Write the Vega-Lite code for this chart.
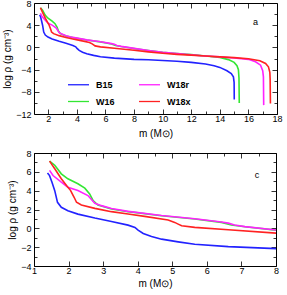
{
 "$schema": "https://vega.github.io/schema/vega-lite/v6.json",
 "padding": {"left": 2, "top": -2, "right": 2, "bottom": 0},
 "spacing": 9,
 "config": {
  "font": "Liberation Sans",
  "view": {"stroke": "black", "strokeWidth": 1},
  "axis": {"grid": false, "domain": false, "tickColor": "black", "labelColor": "black", "titleColor": "black", "labelFontSize": 9, "titleFontSize": 10, "titleFontWeight": "normal", "tickWidth": 0.8, "titlePadding": 3, "minExtent": 0, "labelFlush": false, "labelOverlap": false},
  "axisX": {"labelPadding": 5},
  "axisY": {"labelPadding": 8}
 },
 "resolve": {"legend": {"color": "independent"}},
 "datasets": {
  "rho": [
   {"model": "B15", "m": 1.39, "v": 5.87}, {"model": "B15", "m": 1.45, "v": 5.6}, {"model": "B15", "m": 1.52, "v": 4.9}, {"model": "B15", "m": 1.6, "v": 4.0}, {"model": "B15", "m": 1.68, "v": 2.76}, {"model": "B15", "m": 1.79, "v": 2.23}, {"model": "B15", "m": 1.98, "v": 1.87}, {"model": "B15", "m": 2.27, "v": 1.51}, {"model": "B15", "m": 2.76, "v": 1.09}, {"model": "B15", "m": 3.24, "v": 0.73}, {"model": "B15", "m": 3.72, "v": 0.34}, {"model": "B15", "m": 3.92, "v": 0.1}, {"model": "B15", "m": 4.01, "v": -0.19}, {"model": "B15", "m": 4.16, "v": -0.55}, {"model": "B15", "m": 4.4, "v": -0.87}, {"model": "B15", "m": 4.69, "v": -1.15}, {"model": "B15", "m": 5.17, "v": -1.44}, {"model": "B15", "m": 5.65, "v": -1.69}, {"model": "B15", "m": 6.62, "v": -1.94}, {"model": "B15", "m": 8.0, "v": -2.15}, {"model": "B15", "m": 9.0, "v": -2.22}, {"model": "B15", "m": 10.0, "v": -2.35}, {"model": "B15", "m": 11.0, "v": -2.5}, {"model": "B15", "m": 12.0, "v": -2.7}, {"model": "B15", "m": 13.0, "v": -3.0}, {"model": "B15", "m": 13.6, "v": -3.3}, {"model": "B15", "m": 14.0, "v": -3.6}, {"model": "B15", "m": 14.5, "v": -4.2}, {"model": "B15", "m": 14.8, "v": -4.7}, {"model": "B15", "m": 14.95, "v": -5.3}, {"model": "B15", "m": 15.0, "v": -6.3}, {"model": "B15", "m": 15.01, "v": -9.4},
   {"model": "W16", "m": 1.45, "v": 7.14}, {"model": "W16", "m": 1.6, "v": 6.7}, {"model": "W16", "m": 1.79, "v": 5.79}, {"model": "W16", "m": 1.98, "v": 5.26}, {"model": "W16", "m": 2.27, "v": 4.73}, {"model": "W16", "m": 2.47, "v": 4.27}, {"model": "W16", "m": 2.61, "v": 3.66}, {"model": "W16", "m": 2.71, "v": 2.94}, {"model": "W16", "m": 2.85, "v": 2.48}, {"model": "W16", "m": 3.24, "v": 2.05}, {"model": "W16", "m": 3.72, "v": 1.77}, {"model": "W16", "m": 4.69, "v": 1.34}, {"model": "W16", "m": 5.65, "v": 0.99}, {"model": "W16", "m": 6.42, "v": 0.63}, {"model": "W16", "m": 6.71, "v": 0.35}, {"model": "W16", "m": 7.1, "v": 0.17}, {"model": "W16", "m": 8.0, "v": -0.19}, {"model": "W16", "m": 9.0, "v": -0.55}, {"model": "W16", "m": 10.0, "v": -0.9}, {"model": "W16", "m": 11.0, "v": -1.1}, {"model": "W16", "m": 12.0, "v": -1.3}, {"model": "W16", "m": 13.0, "v": -1.55}, {"model": "W16", "m": 14.0, "v": -1.8}, {"model": "W16", "m": 14.6, "v": -2.2}, {"model": "W16", "m": 15.0, "v": -2.7}, {"model": "W16", "m": 15.2, "v": -3.3}, {"model": "W16", "m": 15.3, "v": -4.0}, {"model": "W16", "m": 15.34, "v": -5.5}, {"model": "W16", "m": 15.36, "v": -10.0},
   {"model": "W18r", "m": 1.45, "v": 6.15}, {"model": "W18r", "m": 1.55, "v": 5.61}, {"model": "W18r", "m": 1.79, "v": 4.9}, {"model": "W18r", "m": 1.98, "v": 4.37}, {"model": "W18r", "m": 2.27, "v": 4.01}, {"model": "W18r", "m": 2.56, "v": 3.48}, {"model": "W18r", "m": 2.76, "v": 2.66}, {"model": "W18r", "m": 2.95, "v": 2.41}, {"model": "W18r", "m": 3.24, "v": 2.1}, {"model": "W18r", "m": 3.72, "v": 1.8}, {"model": "W18r", "m": 4.69, "v": 1.36}, {"model": "W18r", "m": 5.65, "v": 1.01}, {"model": "W18r", "m": 6.42, "v": 0.68}, {"model": "W18r", "m": 6.62, "v": 0.55}, {"model": "W18r", "m": 6.8, "v": 0.35}, {"model": "W18r", "m": 7.1, "v": 0.18}, {"model": "W18r", "m": 8.0, "v": -0.18}, {"model": "W18r", "m": 9.0, "v": -0.55}, {"model": "W18r", "m": 10.0, "v": -0.9}, {"model": "W18r", "m": 11.0, "v": -1.1}, {"model": "W18r", "m": 12.0, "v": -1.35}, {"model": "W18r", "m": 13.0, "v": -1.55}, {"model": "W18r", "m": 14.0, "v": -1.7}, {"model": "W18r", "m": 15.0, "v": -1.9}, {"model": "W18r", "m": 16.0, "v": -2.15}, {"model": "W18r", "m": 16.5, "v": -2.6}, {"model": "W18r", "m": 16.85, "v": -3.2}, {"model": "W18r", "m": 17.0, "v": -4.2}, {"model": "W18r", "m": 17.05, "v": -5.3}, {"model": "W18r", "m": 17.07, "v": -10.4},
   {"model": "W18x", "m": 1.45, "v": 7.14}, {"model": "W18x", "m": 1.6, "v": 6.32}, {"model": "W18x", "m": 1.79, "v": 5.26}, {"model": "W18x", "m": 1.94, "v": 4.55}, {"model": "W18x", "m": 2.06, "v": 4.01}, {"model": "W18x", "m": 2.16, "v": 3.3}, {"model": "W18x", "m": 2.23, "v": 2.77}, {"model": "W18x", "m": 2.37, "v": 2.48}, {"model": "W18x", "m": 2.76, "v": 2.12}, {"model": "W18x", "m": 3.24, "v": 1.77}, {"model": "W18x", "m": 3.72, "v": 1.52}, {"model": "W18x", "m": 4.2, "v": 1.27}, {"model": "W18x", "m": 4.88, "v": 0.88}, {"model": "W18x", "m": 5.07, "v": 0.63}, {"model": "W18x", "m": 5.17, "v": 0.45}, {"model": "W18x", "m": 5.27, "v": 0.27}, {"model": "W18x", "m": 5.65, "v": 0.1}, {"model": "W18x", "m": 6.62, "v": -0.15}, {"model": "W18x", "m": 8.0, "v": -0.51}, {"model": "W18x", "m": 9.0, "v": -0.8}, {"model": "W18x", "m": 10.0, "v": -1.05}, {"model": "W18x", "m": 11.0, "v": -1.25}, {"model": "W18x", "m": 12.0, "v": -1.4}, {"model": "W18x", "m": 13.0, "v": -1.55}, {"model": "W18x", "m": 14.0, "v": -1.7}, {"model": "W18x", "m": 15.0, "v": -1.85}, {"model": "W18x", "m": 16.0, "v": -2.05}, {"model": "W18x", "m": 16.8, "v": -2.4}, {"model": "W18x", "m": 17.2, "v": -2.9}, {"model": "W18x", "m": 17.4, "v": -3.5}, {"model": "W18x", "m": 17.5, "v": -4.5}, {"model": "W18x", "m": 17.52, "v": -5.7}, {"model": "W18x", "m": 17.54, "v": -10.1}
  ]
 },
 "vconcat": [
  {
   "width": 243, "height": 111,
   "resolve": {"axis": {"x": "independent", "y": "independent"}},
   "layer": [
    {
     "data": {"name": "rho"},
     "mark": {"type": "line", "strokeWidth": 1.6, "clip": true},
     "encoding": {
      "x": {"field": "m", "type": "quantitative", "scale": {"domain": [1, 18], "nice": false}, "axis": {"orient": "bottom", "title": "m (M⊙)", "values": [2,3,4,5,6,7,8,9,10,11,12,13,14,15,16,17,18], "labelExpr": "datum.value % 2 == 0 ? datum.label : ''", "tickSize": {"condition": {"test": "datum.value % 2 == 0", "value": -5}, "value": -3}}},
      "y": {"field": "v", "type": "quantitative", "scale": {"domain": [-12, 8], "nice": false}, "axis": {"title": "log ρ (g cm⁻³)", "values": [-12,-10,-8,-6,-4,-2,0,2,4,6,8], "labelExpr": "datum.value % 4 == 0 ? datum.label : ''", "tickSize": {"condition": {"test": "datum.value % 4 == 0", "value": -5}, "value": -3}}},
      "color": {"field": "model", "type": "nominal", "scale": {"domain": ["B15", "W16", "W18r", "W18x"], "range": ["#2222ff", "#33e633", "#ff22ff", "#ff2222"]},
       "legend": {"title": null, "orient": "none", "legendX": 33, "legendY": 70, "padding": 0, "columns": 2, "columnPadding": 21, "rowPadding": -11, "symbolType": "stroke", "symbolSize": 441, "symbolStrokeWidth": 1.3, "labelFontSize": 9, "labelFontWeight": "bold", "labelOffset": 6}}
     }
    },
    {
     "data": {"values": [{"m": 16.5, "v": 4.6, "t": "a"}]},
     "mark": {"type": "text", "fontSize": 9, "color": "black"},
     "encoding": {
      "x": {"field": "m", "type": "quantitative", "axis": {"orient": "top", "title": null, "labels": false, "values": [2,3,4,5,6,7,8,9,10,11,12,13,14,15,16,17], "tickSize": {"condition": {"test": "datum.value % 2 == 0", "value": -5}, "value": -3}}},
      "y": {"field": "v", "type": "quantitative", "axis": {"orient": "right", "title": null, "labels": false, "values": [-12,-10,-8,-6,-4,-2,0,2,4,6,8], "tickSize": {"condition": {"test": "datum.value % 4 == 0", "value": -5}, "value": -3}}},
      "text": {"field": "t"}
     }
    }
   ]
  },
  {
   "width": 242, "height": 113,
   "resolve": {"axis": {"x": "independent", "y": "independent"}},
   "layer": [
    {
     "data": {"name": "rho"},
     "mark": {"type": "line", "strokeWidth": 1.6, "clip": true},
     "encoding": {
      "x": {"field": "m", "type": "quantitative", "scale": {"domain": [1, 8], "nice": false}, "axis": {"orient": "bottom", "title": "m (M⊙)", "format": "d", "values": [1,1.5,2,2.5,3,3.5,4,4.5,5,5.5,6,6.5,7,7.5,8], "labelExpr": "datum.value % 1 == 0 ? datum.label : ''", "tickSize": {"condition": {"test": "datum.value % 1 == 0", "value": -5}, "value": -3}}},
      "y": {"field": "v", "type": "quantitative", "scale": {"domain": [-4, 8], "nice": false}, "axis": {"title": "log ρ (g cm⁻³)", "values": [-4,-3,-2,-1,0,1,2,3,4,5,6,7,8], "labelExpr": "datum.value % 2 == 0 ? datum.label : ''", "tickSize": {"condition": {"test": "datum.value % 2 == 0", "value": -5}, "value": -3}}},
      "color": {"field": "model", "type": "nominal", "scale": {"domain": ["B15", "W16", "W18r", "W18x"], "range": ["#2222ff", "#33e633", "#ff22ff", "#ff2222"]}, "legend": null}
     }
    },
    {
     "data": {"values": [{"m": 7.45, "v": 5.66, "t": "c"}]},
     "mark": {"type": "text", "fontSize": 9, "color": "black"},
     "encoding": {
      "x": {"field": "m", "type": "quantitative", "axis": {"orient": "top", "title": null, "labels": false, "values": [1,1.5,2,2.5,3,3.5,4,4.5,5,5.5,6,6.5,7,7.5,8], "tickSize": {"condition": {"test": "datum.value % 1 == 0", "value": -5}, "value": -3}}},
      "y": {"field": "v", "type": "quantitative", "axis": {"orient": "right", "title": null, "labels": false, "values": [-4,-3,-2,-1,0,1,2,3,4,5,6,7,8], "tickSize": {"condition": {"test": "datum.value % 2 == 0", "value": -5}, "value": -3}}},
      "text": {"field": "t"}
     }
    }
   ]
  }
 ]
}
